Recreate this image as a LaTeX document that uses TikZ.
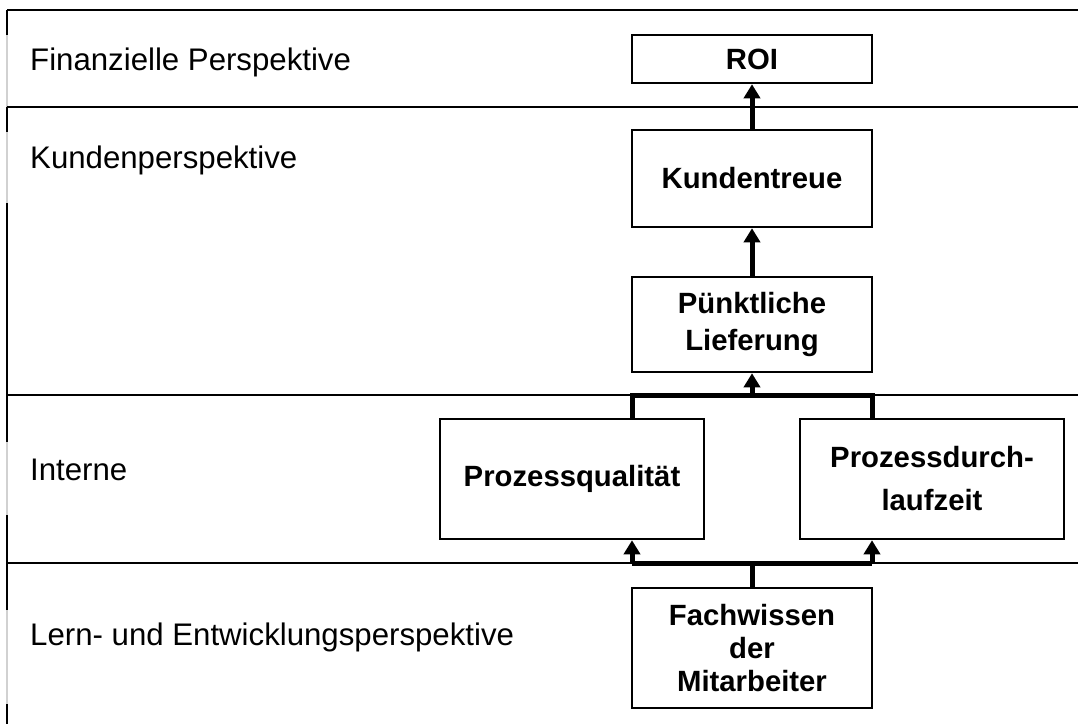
\documentclass[tikz,border=0pt]{standalone}
\usepackage{fontspec}
\setmainfont{Liberation Sans}
\usetikzlibrary{arrows.meta,positioning}

\begin{document}
\begin{tikzpicture}[x=1pt,y=-1pt,
  box/.style={draw,line width=2.5pt,minimum width=240pt,inner sep=0pt,align=center,
    font=\fontsize{29.3}{37}\selectfont\bfseries},
  sep/.style={line width=1.5pt},
  bus/.style={line width=5pt},
  conn/.style={line width=5pt,-{Triangle[length=14pt,width=16pt]}},
  lbl/.style={anchor=west,inner sep=0pt,font=\fontsize{31.2}{36}\selectfont}]
\useasboundingbox (0,0) rectangle (1078,724);
% rows
\draw[line width=1.5pt,black!18] (7,10) -- (7,724);
\foreach \a/\b in {10/35,107/132,203/442,515/610,704/724}
  \draw[sep] (7,\a) -- (7,\b);
\foreach \y in {10,107,395,563}
  \draw[sep] (7,\y) -- (1078,\y);
\node[lbl] (fin) at (30,62) {Finanzielle Perspektive};
\node[lbl] (kun) at (30,160) {Kundenperspektive};
\node[lbl] (int) at (30,470) {Interne};
\node[lbl] (lern) at (30,637) {Lern- und Entwicklungsperspektive};
% boxes
\node[box,minimum height=48pt] (roi) at (752,59) {ROI};
\node[box,minimum height=97pt] (treue) at (752,178.5) {Kundentreue};
\node[box,minimum height=95pt] (liefer) at (752,324.5) {Pünktliche\\Lieferung};
\node[box,minimum width=264pt,minimum height=120pt] (qual) at (572,479) {Prozessqualität};
\node[box,minimum width=264pt,minimum height=120pt,
  font=\fontsize{29.3}{43}\selectfont\bfseries] (dlz) at (932,479) {Prozessdurch-\\laufzeit};
\node[box,minimum height=120pt,
  font=\fontsize{29.3}{33}\selectfont\bfseries] (fach) at (752,648) {Fachwissen\\der\\Mitarbeiter};
% connectors
\coordinate (bl) at (632,395);
\coordinate (bm) at (752,395);
\coordinate (br) at (872,395);
\coordinate (cl) at (632,563);
\coordinate (cm) at (752,563);
\coordinate (cr) at (872,563);
\draw[conn] (treue) -- (roi);
\draw[conn] (liefer) -- (treue);
\draw[bus] (qual.north -| bl) -- (bl) -- (br) -- (dlz.north -| br);
\draw[conn] (bm) -- (liefer);
\draw[bus] (fach) -- (cm);
\draw[bus] (cl) -- (cr);
\draw[conn] (cl) -- (qual.south -| cl);
\draw[conn] (cr) -- (dlz.south -| cr);
\end{tikzpicture}
\end{document}
